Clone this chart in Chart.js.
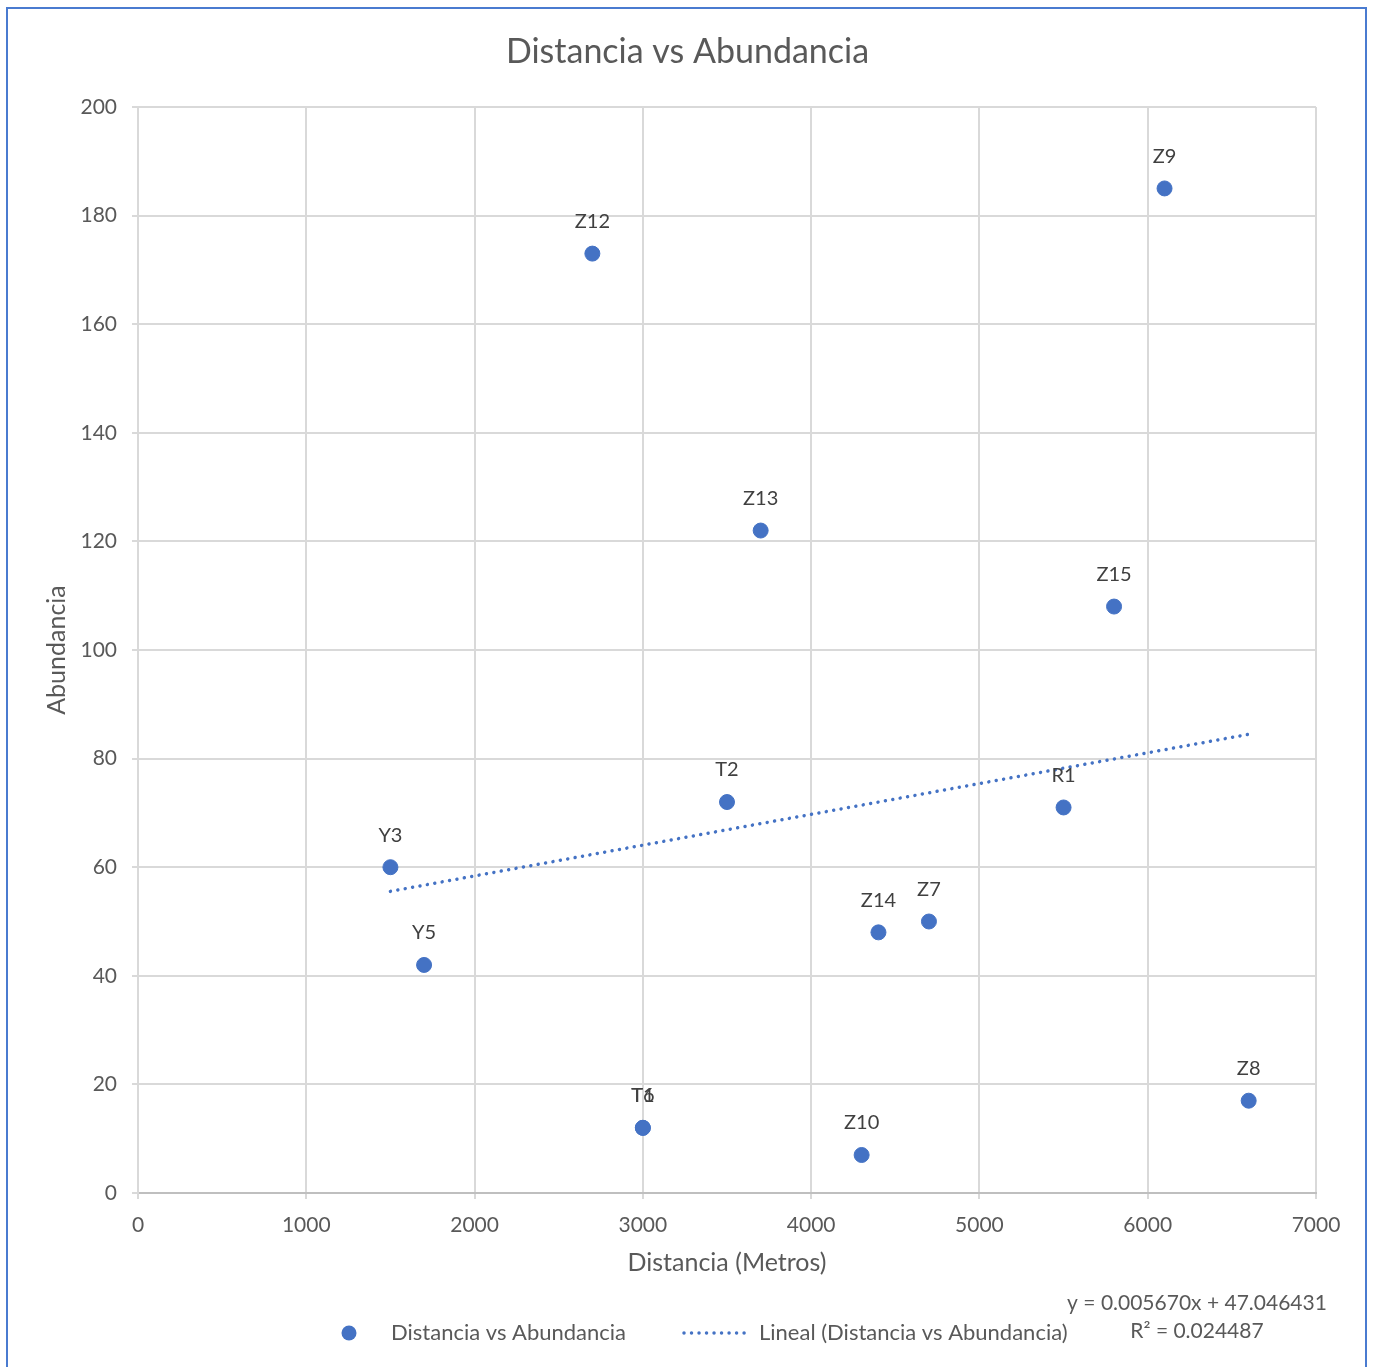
<!DOCTYPE html>
<html>
<head>
<meta charset="utf-8">
<script src="https://cdn.jsdelivr.net/npm/chart.js@4.4.1/dist/chart.umd.min.js"></script>
<style>
  html, body { margin: 0; padding: 0; background: #ffffff; overflow: hidden; }
  #wrap { position: relative; width: 1375px; height: 1367px; }
  #frame { position: absolute; left: 6px; top: 7px; width: 1361px; height: 1400px;
           border: 2px solid #4a7bd0; box-sizing: border-box; pointer-events: none; }
  canvas { position: absolute; left: 0; top: 0; }
</style>
</head>
<body>
<div id="wrap">
  <canvas id="chart" width="1375" height="1367"></canvas>
  <div id="frame"></div>
</div>
<script>
// Sampling sites: distance (m) and abundance
const siteNames  = ['Y3', 'Y5', 'Z12', 'T1', 'T6', 'T2', 'Z13', 'Z10', 'Z14', 'Z7', 'R1', 'Z15', 'Z9', 'Z8'];
const distances  = [1500, 1700, 2700, 3000, 3000, 3500, 3700, 4300, 4400, 4700, 5500, 5800, 6100, 6600];
const abundances = [60, 42, 173, 12, 12, 72, 122, 7, 48, 50, 71, 108, 185, 17];

// Linear trend (least squares) as printed on the chart
const trendSlope = 0.005670;
const trendIntercept = 47.046431;
const trendText = ['y = 0.005670x + 47.046431', 'R² = 0.024487'];

const chartTitle = 'Distancia vs Abundancia';
const seriesName = 'Distancia vs Abundancia';
const trendName = 'Lineal (Distancia vs Abundancia)';

const FONT = 'Lato, "Open Sans", sans-serif';
const BLUE = '#4472c4';
const TEXT = '#595959';

const scatterPoints = distances.map((d, i) => ({ x: d, y: abundances[i] }));
const xMin = Math.min(...distances), xMax = Math.max(...distances);
const trendPoints = [xMin, xMax].map(x => ({ x: x, y: trendSlope * x + trendIntercept }));

// Title centred on the canvas, labels above each point, legend and equation text
const annotate = {
  id: 'annotate',
  afterDatasetsDraw(chart) {
    const ctx = chart.ctx;
    const meta = chart.getDatasetMeta(1);
    ctx.save();
    ctx.font = '20px ' + FONT;
    ctx.fillStyle = '#404040';
    ctx.textAlign = 'center';
    ctx.textBaseline = 'middle';
    meta.data.forEach((pt, i) => {
      ctx.fillText(siteNames[i], pt.x, pt.y - 32);
    });
    ctx.restore();
  },
  afterDraw(chart) {
    const ctx = chart.ctx;
    ctx.save();
    ctx.fillStyle = TEXT;
    ctx.textBaseline = 'middle';
    ctx.textAlign = 'center';
    ctx.font = '34px ' + FONT;
    ctx.fillText(chartTitle, chart.width / 2, 52);

    const ly = 1333;
    // scatter legend item
    ctx.fillStyle = BLUE;
    ctx.beginPath();
    ctx.arc(349, ly, 7.5, 0, Math.PI * 2);
    ctx.fill();
    ctx.font = '22px ' + FONT;
    ctx.fillStyle = TEXT;
    ctx.textAlign = 'left';
    ctx.fillText(seriesName, 391, ly);
    // trend legend item
    ctx.strokeStyle = BLUE;
    ctx.lineWidth = 3.5;
    ctx.lineCap = 'round';
    ctx.setLineDash([0.01, 7.5]);
    ctx.beginPath();
    ctx.moveTo(684, ly);
    ctx.lineTo(751, ly);
    ctx.stroke();
    ctx.setLineDash([]);
    ctx.fillText(trendName, 759, ly);
    // trend equation
    ctx.font = '21px ' + FONT;
    ctx.textAlign = 'center';
    ctx.fillText(trendText[0], 1197, 1303);
    ctx.fillText(trendText[1], 1197, 1331);
    ctx.restore();
  }
};

new Chart(document.getElementById('chart'), {
  type: 'scatter',
  data: {
    datasets: [
      {
        label: trendName,
        type: 'line',
        data: trendPoints,
        borderColor: BLUE,
        borderWidth: 3.5,
        borderCapStyle: 'round',
        borderDash: [0.01, 7.5],
        pointRadius: 0,
        fill: false,
        order: 2
      },
      {
        label: seriesName,
        data: scatterPoints,
        backgroundColor: BLUE,
        borderColor: BLUE,
        pointRadius: 7.5,
        pointHoverRadius: 7.5,
        order: 1
      }
    ]
  },
  options: {
    responsive: false,
    animation: false,
    layout: { padding: { left: 40, right: 59, top: 107, bottom: 84 } },
    plugins: {
      legend: { display: false },
      tooltip: { enabled: false },
      title: { display: false }
    },
    scales: {
      x: {
        type: 'linear',
        min: 0, max: 7000,
        ticks: { stepSize: 1000, color: TEXT, font: { family: FONT, size: 21 }, padding: 13.4,
                 maxRotation: 0, callback: v => String(v) },
        grid: { color: '#d9d9d9', lineWidth: 2, tickLength: 6 },
        border: { color: '#bfbfbf', width: 2 },
        title: { display: true, text: 'Distancia (Metros)', color: TEXT,
                 font: { family: FONT, size: 25 }, padding: { top: 0, bottom: 5 } },
        afterFit(scale) { scale.height = 90; }
      },
      y: {
        type: 'linear',
        min: 0, max: 200,
        ticks: { stepSize: 20, color: TEXT, font: { family: FONT, size: 21 }, padding: 15,
                 callback: v => String(v) },
        grid: { color: '#d9d9d9', lineWidth: 2, tickLength: 6 },
        border: { color: '#d9d9d9', width: 2 },
        title: { display: true, text: 'Abundancia', color: TEXT,
                 font: { family: FONT, size: 25 }, padding: { top: 2, bottom: 0 } },
        afterFit(scale) { scale.width = 98; }
      }
    }
  },
  plugins: [annotate]
});
</script>
</body>
</html>
